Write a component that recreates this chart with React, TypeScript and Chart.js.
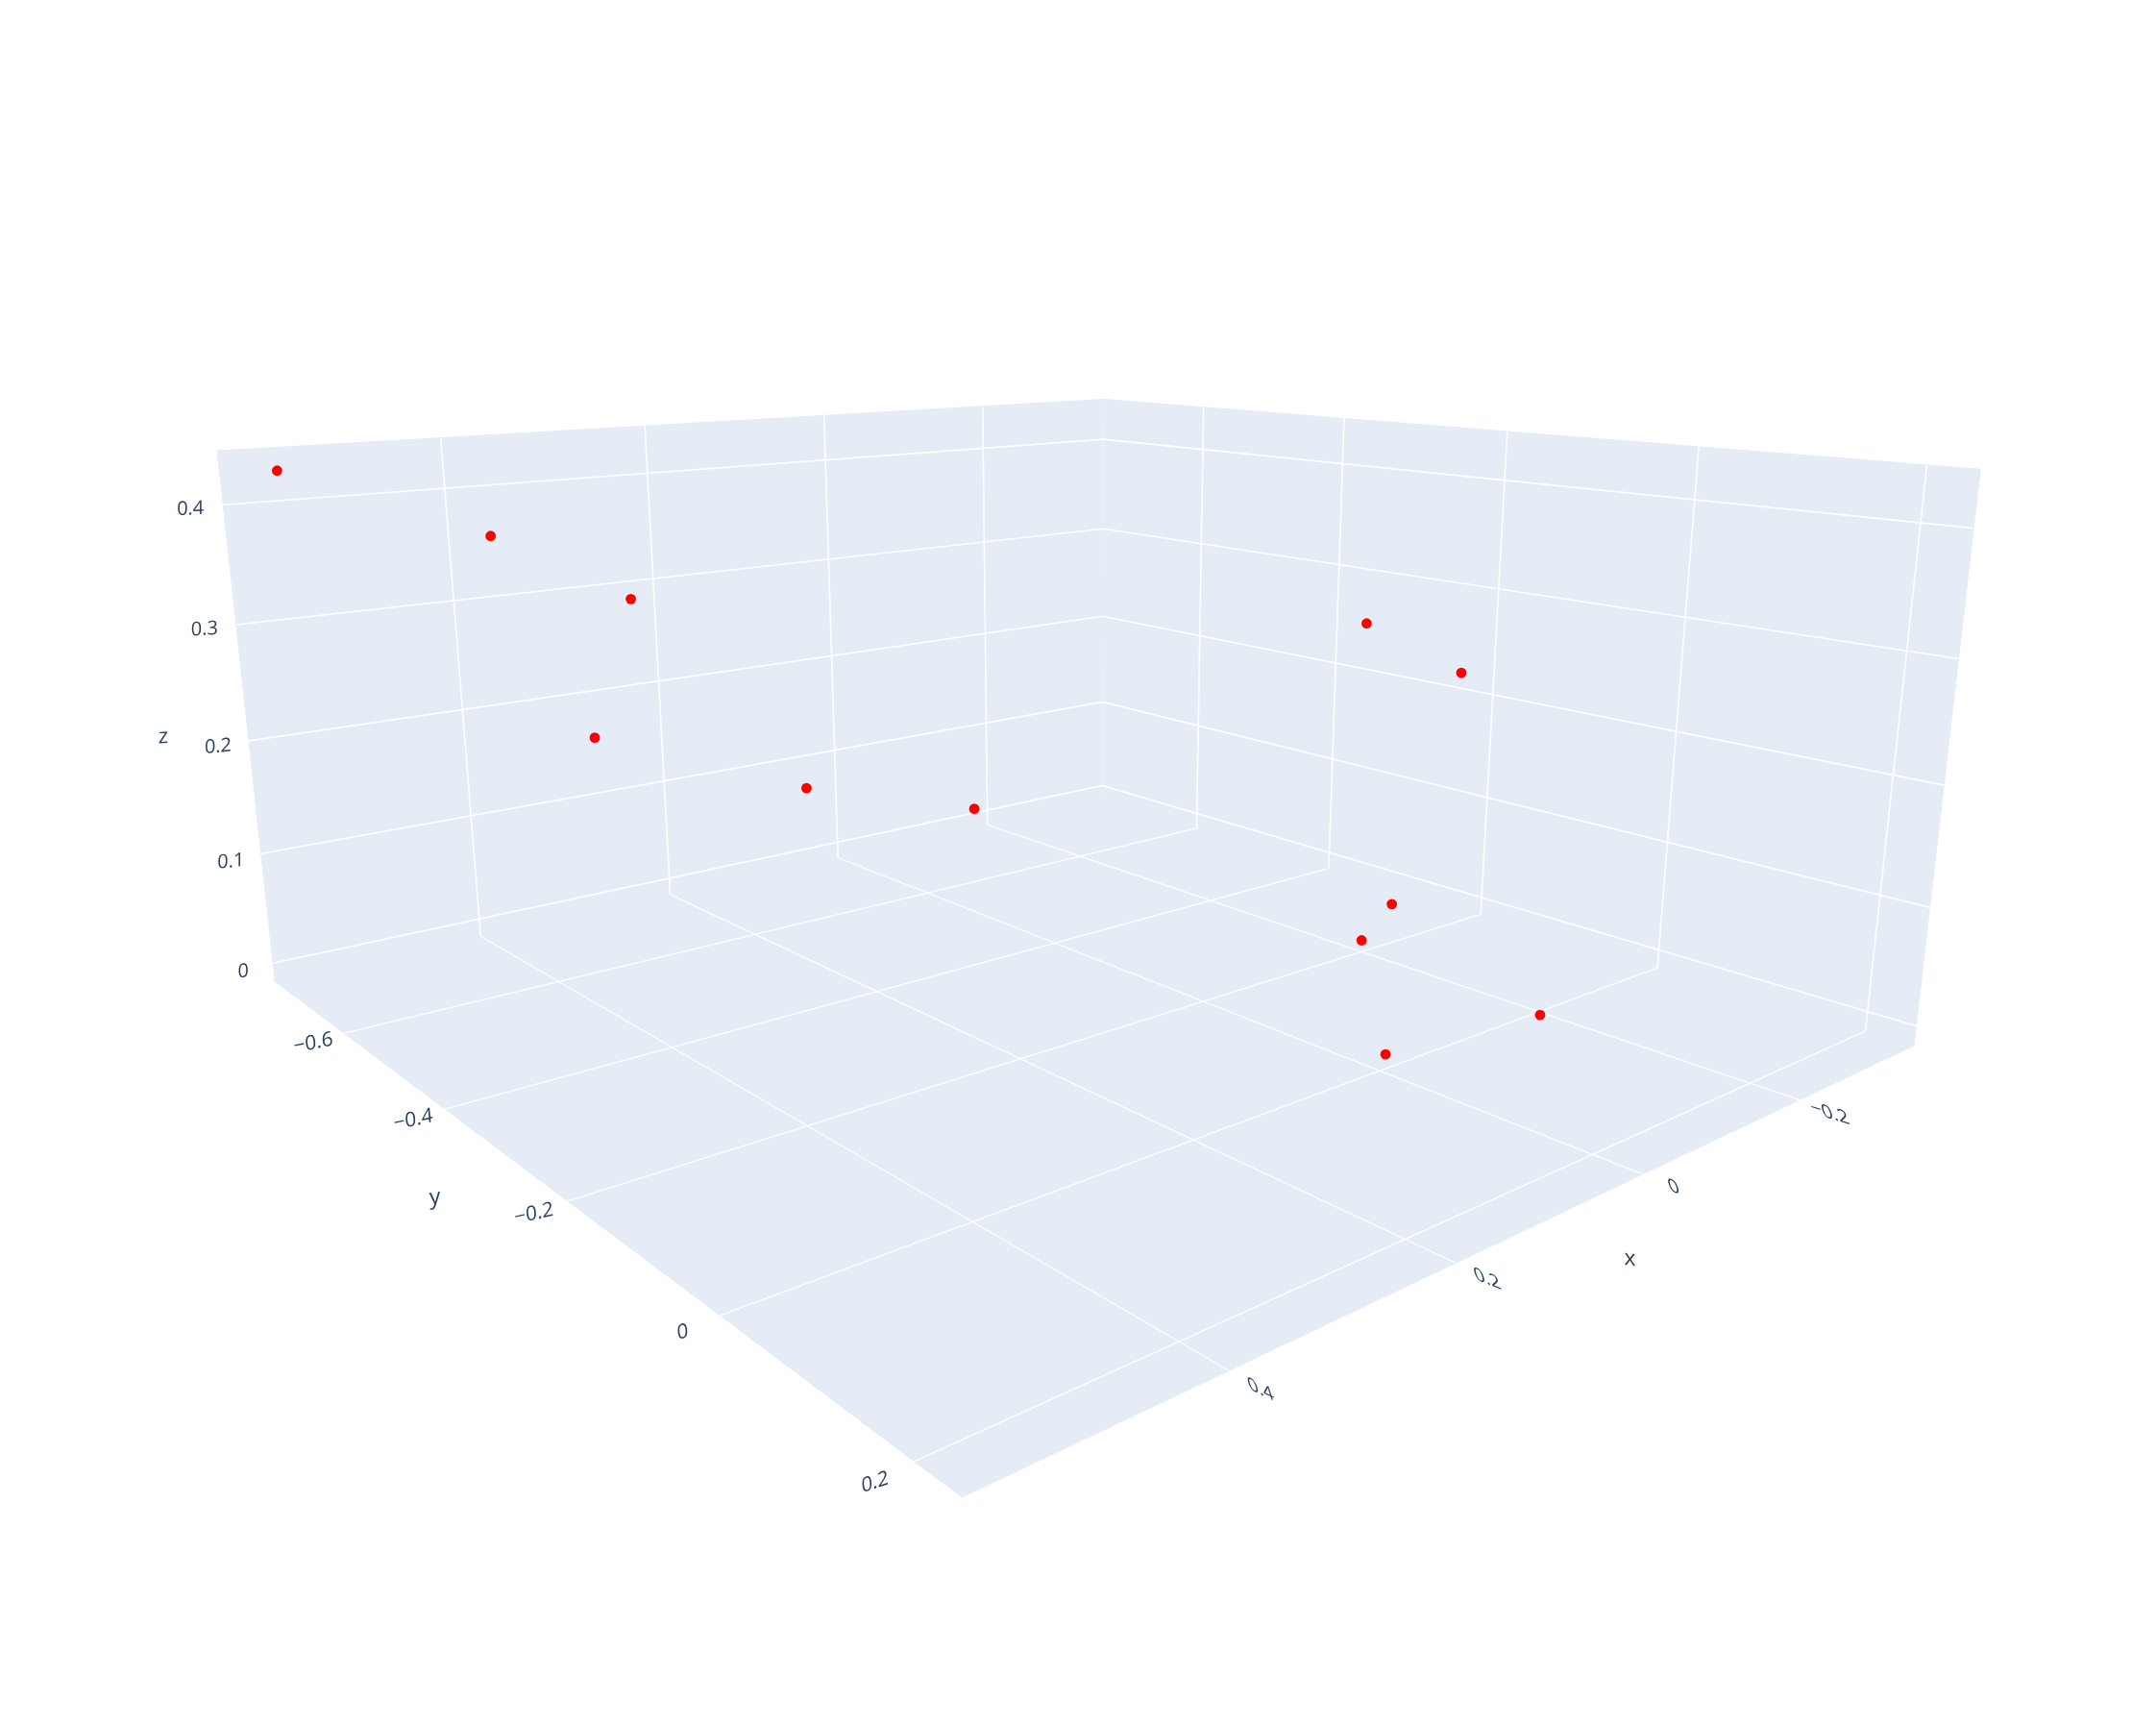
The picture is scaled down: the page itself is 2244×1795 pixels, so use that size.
import React, { useEffect, useRef } from "react";
import { Chart, registerables } from "chart.js";

Chart.register(...registerables);

// Scatter data (x, y, z), estimated from the single 3D view
const pointX = [0.562, 0.41, 0.332, 0.36, 0.211, 0.074, -0.139, -0.232, -0.169, -0.12, -0.158, 0.022];
const pointY = [-0.709, -0.65, -0.556, -0.582, -0.484, -0.423, -0.155, -0.127, -0.14, -0.13, 0.032, 0.024];
const pointZ = [0.43, 0.37, 0.32, 0.2, 0.15, 0.12, 0.3, 0.25, 0.05, 0.03, 0, 0.01];

// Axis ticks and labels
const xTicks = [-0.2, 0, 0.2, 0.4];
const yTicks = [-0.6, -0.4, -0.2, 0, 0.2];
const zTicks = [0, 0.1, 0.2, 0.3, 0.4];
const xTickLabels = ["\u22120.2", "0", "0.2", "0.4"];
const yTickLabels = ["\u22120.6", "\u22120.4", "\u22120.2", "0", "0.2"];
const zTickLabels = ["0", "0.1", "0.2", "0.3", "0.4"];

// Box bounds of the 3D scene
const xRange = [-0.37, 0.591];
const yRange = [-0.761, 0.242];
const zRange = [-0.017, 0.444];

// Camera (projective matrix rows) mapping scene to page pixels
const camU = [-1458.53, 335.9687, -184.0221, 1436.965];
const camV = [-103.9314, -124.2718, -1426.695, 1093.179];
const camW = [-0.3914782, -0.4667725, -0.1647828, 1];

const WALL = "#E5ECF6";
const GRID = "#FFFFFF";
const INK = "#2a3f5f";
const FONT = "'Open Sans', sans-serif";

type V3 = [number, number, number];
function project([x, y, z]: V3) {
  const d = camW[0] * x + camW[1] * y + camW[2] * z + camW[3];
  return {
    x: (camU[0] * x + camU[1] * y + camU[2] * z + camU[3]) / d,
    y: (camV[0] * x + camV[1] * y + camV[2] * z + camV[3]) / d,
  };
}

const [X0, X1] = xRange;
const [Y0, Y1] = yRange;
const [Z0, Z1] = zRange;

function face(corners: V3[]) {
  return {
    data: corners.map(project),
    showLine: true,
    fill: "shape",
    backgroundColor: WALL,
    borderColor: WALL,
    borderWidth: 1,
    pointRadius: 0,
    order: 3,
  };
}
function grid(corners: V3[], width: number) {
  return {
    data: corners.map(project),
    showLine: true,
    fill: false,
    borderColor: GRID,
    borderWidth: width,
    pointRadius: 0,
    order: 2,
  };
}

type Lbl = { text: string; at: V3; dx: number; dy: number; angle: number; lean: number; squash: number; size?: number };
const labels: Lbl[] = [];
const xOff = [[31.7, 14], [32.5, 13.4], [33, 17], [33, 20]];
const xAng = [17, 19, 22, 25];
xTicks.forEach((t, i) =>
  labels.push({ text: xTickLabels[i], at: [t, Y1, Z0], dx: xOff[i][0], dy: xOff[i][1], angle: xAng[i], lean: 18, squash: 0.98, size: 21 })
);
const yOff = [[-32, 10.3], [-33, 11.4], [-35, 13.3], [-38.8, 17.5], [-41, 22]];
const yAng = [-11, -12, -13, -15, -18];
yTicks.forEach((t, i) =>
  labels.push({ text: yTickLabels[i], at: [X1, t, Z0], dx: yOff[i][0], dy: yOff[i][1], angle: yAng[i], lean: 5, squash: 1, size: 21 })
);
const zOff = [[-31, 8.8], [-31.4, 8.4], [-32, 6.2], [-33, 5], [-34, 4.5]];
const zAng = [-7, -6, -5, -3, -2];
zTicks.forEach((t, i) =>
  labels.push({ text: zTickLabels[i], at: [X1, Y0, t], dx: zOff[i][0], dy: zOff[i][1], angle: zAng[i], lean: 0, squash: 1 })
);
labels.push({ text: "x", at: [0.1, Y1, Z0], dx: 79.5, dy: 44, angle: 6, lean: 0, squash: 1, size: 23 });
labels.push({ text: "y", at: [X1, -0.3, Z0], dx: -71, dy: 47, angle: -6, lean: 3, squash: 1, size: 23 });
labels.push({ text: "z", at: [X1, Y0, 0.2], dx: -89, dy: -4, angle: -3, lean: 0, squash: 1, size: 22 });

const sceneText = {
  id: "sceneText",
  afterDatasetsDraw(chart: any) {
    const { ctx, scales } = chart;
    labels.forEach((l) => {
      const p = project(l.at);
      const px = scales.x.getPixelForValue(p.x) + l.dx;
      const py = scales.y.getPixelForValue(p.y) + l.dy;
      const a = (l.angle * Math.PI) / 180;
      const t = (l.lean * Math.PI) / 180;
      ctx.save();
      ctx.transform(Math.cos(a), Math.sin(a), Math.sin(t) * l.squash, Math.cos(t) * l.squash, px, py);
      ctx.font = `${l.size ?? 20}px ${FONT}`;
      ctx.fillStyle = INK;
      ctx.textAlign = "center";
      ctx.textBaseline = "middle";
      ctx.fillText(l.text, 0, 0);
      ctx.restore();
    });
  },
};

export default function App() {
  const ref = useRef<HTMLCanvasElement>(null);
  useEffect(() => {
    document.body.style.margin = "0";
    const datasets: any[] = [
      face([[X0, Y0, Z0], [X1, Y0, Z0], [X1, Y0, Z1], [X0, Y0, Z1]]),
      face([[X0, Y0, Z0], [X0, Y1, Z0], [X0, Y1, Z1], [X0, Y0, Z1]]),
      face([[X0, Y0, Z0], [X1, Y0, Z0], [X1, Y1, Z0], [X0, Y1, Z0]]),
    ];
    xTicks.forEach((t) => {
      datasets.push(grid([[t, Y0, Z1], [t, Y0, Z0]], 1.6));
      datasets.push(grid([[t, Y0, Z0], [t, Y1, Z0]], 1.3));
    });
    yTicks.forEach((t) => {
      datasets.push(grid([[X0, t, Z1], [X0, t, Z0]], 1.6));
      datasets.push(grid([[X0, t, Z0], [X1, t, Z0]], 1.3));
    });
    zTicks.forEach((t) => {
      datasets.push(grid([[X1, Y0, t], [X0, Y0, t], [X0, Y1, t]], 1.6));
    });
    datasets.push({
      data: pointX.map((x, i) => project([x, pointY[i], pointZ[i]])),
      showLine: false,
      pointRadius: 5.4,
      pointBorderWidth: 0,
      pointBackgroundColor: "#FF0000",
      order: 0,
    });
    const chart = new Chart(ref.current!, {
      type: "scatter",
      data: { datasets },
      options: {
        animation: false,
        responsive: false,
        events: [],
        layout: { padding: 0, autoPadding: false },
        plugins: { legend: { display: false }, tooltip: { enabled: false }, title: { display: false } },
        scales: {
          x: { type: "linear", min: 0, max: 2244, display: false },
          y: { type: "linear", min: 0, max: 1795, reverse: true, display: false },
        },
      },
      plugins: [sceneText],
    } as any);
    return () => chart.destroy();
  }, []);
  return <canvas ref={ref} width={2244} height={1795} style={{ display: "block", background: "#fff" }} />;
}
